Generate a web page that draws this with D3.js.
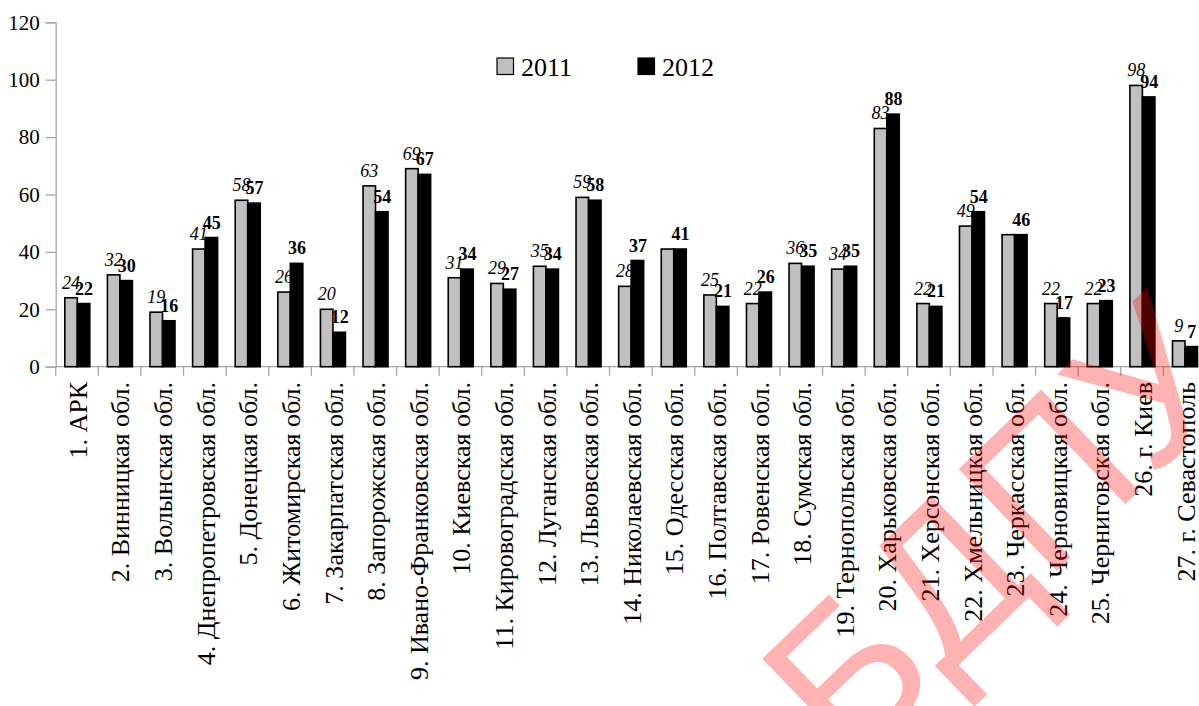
<!DOCTYPE html>
<html lang="en">
	<head>
		<meta charset="utf-8">
		<title>2011 / 2012 по областям</title>
		<script type="text/javascript" src="https://cdn.jsdelivr.net/npm/d3@7"></script>
		<style type="text/css">
			body { margin: 0; background: #fff; }
		</style>
	</head>
	<body>
		<script type="text/javascript">

			//Width and height
			var w = 1199;
			var h = 706;
			var serif = "Liberation Serif";

			var categories = ["1. АРК", "2. Винницкая обл.", "3. Волынская обл.", "4. Днепропетровская обл.",
				"5. Донецкая обл.", "6. Житомирская обл.", "7. Закарпатская обл.", "8. Запорожская обл.",
				"9. Ивано-Франковская обл.", "10. Киевская обл.", "11. Кировоградская обл.", "12. Луганская обл.",
				"13. Львовская обл.", "14. Николаевская обл.", "15. Одесская обл.", "16. Полтавская обл.",
				"17. Ровенская обл.", "18. Сумская обл.", "19. Тернопольская обл.", "20. Харьковская обл.",
				"21. Херсонская обл.", "22. Хмельницкая обл.", "23. Черкасская обл.", "24. Черновицкая обл.",
				"25. Черниговская обл.", "26. г. Киев", "27. г. Севастополь"];

			var values2011 = [24, 32, 19, 41, 58, 26, 20, 63, 69, 31, 29, 35, 59, 28, 41, 25, 22, 36, 34, 83, 22, 49, 46, 22, 22, 98, 9];
			var values2012 = [22, 30, 16, 45, 57, 36, 12, 54, 67, 34, 27, 34, 58, 37, 41, 21, 26, 35, 35, 88, 21, 54, 46, 17, 23, 94, 7];

			var seriesNames = ["2011", "2012"];
			var yTicks = [0, 20, 40, 60, 80, 100, 120];

			var rows = categories.map(function(c, i) {
				return { cat: c, v: [values2011[i], values2012[i]] };
			});

			var svg = d3.select("body")
						.append("svg")
						.attr("width", w)
						.attr("height", h)
						.attr("font-family", serif);

			//scales
			var x = d3.scaleBand().domain(categories).range([55.7, 1206]).padding(0);
			var y = d3.scaleLinear().domain([0, 120]).range([366.7, 22.3]);
			var half = x.bandwidth() / 2;
			var x1 = d3.scaleBand().domain(seriesNames).range([half - 12.2, half + 12.8]).padding(0);

			var axisColor = "#a6a6a6";

			//y axis
			var yAxis = d3.axisLeft(y).tickValues(yTicks).tickSize(10).tickPadding(6).tickFormat(d3.format("d"));
			var gy = svg.append("g").attr("transform", "translate(55.7,0)").call(yAxis)
				.attr("font-family", serif).attr("font-size", "21px");
			gy.select(".domain").attr("stroke", axisColor).attr("stroke-width", 1.3);
			gy.selectAll(".tick line").attr("stroke", axisColor).attr("stroke-width", 1.3);
			gy.selectAll(".tick text").attr("fill", "#000").attr("font-family", serif);

			//x axis line + boundary ticks
			svg.append("line")
				.attr("x1", x.range()[0]).attr("x2", x.range()[1])
				.attr("y1", y(0)).attr("y2", y(0))
				.attr("stroke", axisColor).attr("stroke-width", 1.3);

			var bounds = categories.map(function(c) { return x(c); }).concat([x.range()[1]]);
			svg.selectAll("line.xtick")
				.data(bounds)
				.enter()
				.append("line")
				.attr("class", "xtick")
				.attr("x1", function(d) { return d; })
				.attr("x2", function(d) { return d; })
				.attr("y1", y(0))
				.attr("y2", y(0) + 9)
				.attr("stroke", axisColor)
				.attr("stroke-width", 1.3);

			//bars
			var groups = svg.selectAll("g.cat")
				.data(rows)
				.enter()
				.append("g")
				.attr("class", "cat")
				.attr("transform", function(d) { return "translate(" + x(d.cat) + ",0)"; });

			groups.selectAll("rect")
				.data(function(d) { return d.v; })
				.enter()
				.append("rect")
				.attr("x", function(d, i) { return x1(seriesNames[i]); })
				.attr("y", function(d) { return y(d); })
				.attr("width", x1.bandwidth())
				.attr("height", function(d) { return y(0) - y(d); })
				.attr("fill", function(d, i) { return i === 0 ? "#c0c0c0" : "#000"; })
				.attr("stroke", "#000")
				.attr("stroke-width", 1.6);

			//value labels, 2011 italic, 2012 bold
			//when both years are equal only the 2012 label shows (as in the source)
			groups.selectAll("text")
				.data(function(d) {
					return d.v.map(function(v, i) { return { v: v, i: i, same: d.v[0] === d.v[1] }; })
						.filter(function(e) { return !(e.i === 0 && e.same); });
				})
				.enter()
				.append("text")
				.text(function(d) { return d.v; })
				.attr("text-anchor", "middle")
				.attr("x", function(d) { return x1(seriesNames[d.i]) + x1.bandwidth() / 2 + (d.i === 0 ? 0 : 0.5); })
				.attr("y", function(d) { return y(d.v) - 9; })
				.attr("font-family", serif)
				.attr("font-size", "18px")
				.attr("font-style", function(d) { return d.i === 0 ? "italic" : "normal"; })
				.attr("font-weight", function(d) { return d.i === 0 ? "normal" : "bold"; })
				.attr("fill", "#000");

			//category labels
			svg.selectAll("text.xlab")
				.data(categories)
				.enter()
				.append("text")
				.attr("class", "xlab")
				.text(function(d) { return d; })
				.attr("text-anchor", "end")
				.attr("dy", "0.38em")
				.attr("font-family", serif)
				.attr("font-size", "26px")
				.attr("fill", "#000")
				.attr("transform", function(d) { return "translate(" + (x(d) + half) + ",382) rotate(-90)"; });

			//legend
			var legend = svg.selectAll("g.legend")
				.data(seriesNames)
				.enter()
				.append("g")
				.attr("class", "legend")
				.attr("transform", function(d, i) { return "translate(" + (497 + i * 141) + ",58)"; });

			legend.append("rect")
				.attr("width", 16.5).attr("height", 16.5)
				.attr("fill", function(d, i) { return i === 0 ? "#c0c0c0" : "#000"; })
				.attr("stroke", "#000").attr("stroke-width", 1.2);

			legend.append("text")
				.text(function(d) { return d; })
				.attr("x", 24)
				.attr("y", 18)
				.attr("font-family", serif)
				.attr("font-size", "26px")
				.attr("fill", "#000");

			//watermark
			svg.append("text")
				.text("БДПУ")
				.attr("transform", "translate(848,772) rotate(-44)")
				.attr("font-family", "Liberation Sans")
				.attr("font-size", "205px")
				.attr("fill", "#ff0000")
				.attr("fill-opacity", 0.3);

		</script>
	</body>
</html>
